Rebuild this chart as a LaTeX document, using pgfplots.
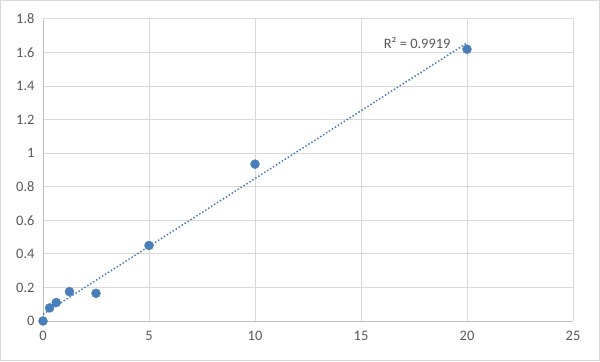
\documentclass[border=0pt]{standalone}
\usepackage{pgfplots}
\pgfplotsset{compat=1.18}
\usepackage{pgfplotstable}
\usepackage{fontspec}
\setmainfont{Carlito}
\definecolor{ptblue}{HTML}{4A7EBB}
\definecolor{txtgray}{HTML}{595959}
\definecolor{gridgray}{HTML}{D9D9D9}
\definecolor{axgray}{HTML}{BFBFBF}
\pgfplotstableread{
x y
0 0
0.3125 0.078
0.625 0.11
1.25 0.175
2.5 0.165
5 0.45
10 0.935
20 1.62
}\data
\begin{document}
\begin{tikzpicture}[x=1bp,y=1bp]
\draw[gridgray, line width=1bp] (0.5,0.5) rectangle (599.5,360.5);
\begin{axis}[
  at={(43bp,40bp)}, anchor=south west,
  scale only axis, width=530bp, height=302bp,
  xmin=0, xmax=25, ymin=0, ymax=1.8,
  xtick={0,5,...,25},
  ytick={0,0.2,0.4,0.6,0.8,1,1.2,1.4,1.6,1.8},
  axis lines*=left,
  axis line style={-, draw=axgray, line width=1bp},
  grid=major,
  major grid style={draw=gridgray, line width=1bp},
  major tick length=0pt,
  tick label style={font=\fontsize{14.5}{16}\selectfont, text=txtgray},
  /pgf/number format/assume math mode=true,
  yticklabel style={/pgf/number format/fixed, /pgf/number format/precision=1},
  xticklabel style={yshift=-7bp},
  yticklabel style={xshift=-5bp},
  clip=false,
]
\addplot[only marks, mark=*, mark size=4.5bp, ptblue, mark options={fill=ptblue, draw=ptblue}] table[x=x,y=y] {\data};
\addplot[ptblue, line width=1.5bp, dash pattern=on 1.5bp off 2bp, mark=none]
  table[x=x, y={create col/linear regression={y=y}}] {\data};
\node[text=txtgray, font=\fontsize{14.5}{16}\selectfont] at (axis cs:17.65,1.655) {R² = 0.9919};
\end{axis}
\end{tikzpicture}
\end{document}
